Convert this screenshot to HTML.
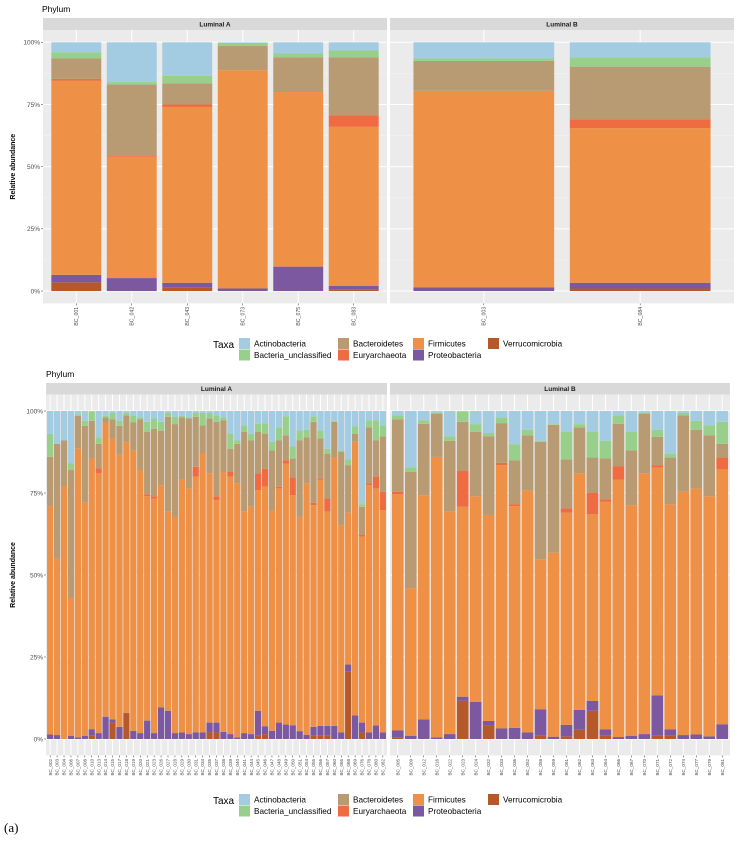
<!DOCTYPE html>
<html><head><meta charset="utf-8"><style>
html,body{margin:0;padding:0;background:#fff;}
svg{display:block;font-family:"Liberation Sans",sans-serif;}
</style></head><body>
<svg id="chart" width="740" height="843" viewBox="0 0 740 843" xmlns="http://www.w3.org/2000/svg"></svg>
<script>
// ---------- DATA ----------
const taxa = ["Verrucomicrobia","Proteobacteria","Firmicutes","Euryarchaeota","Bacteroidetes","Bacteria_unclassified","Actinobacteria"];
const yTicks = [0,25,50,75,100];
const yTickLabels = ["0%","25%","50%","75%","100%"];

// Top chart, Luminal A
const topA_samples = ["BC_001","BC_042","BC_043","BC_073","BC_075","BC_083"];
const topA_verr = [3.5,0,1.3,0,0,0.5];
const topA_prot = [3.0,5.2,2.0,1.0,9.8,1.5];
const topA_firm = [78.0,48.8,70.7,87.8,70.2,64.0];
const topA_eury = [0.8,0.3,1.0,0,0,4.6];
const topA_bact = [8.2,28.7,8.5,9.7,14.0,23.4];
const topA_uncl = [2.5,1.0,3.0,1.3,1.5,2.7];
const topA_acti = [4.0,16.0,13.5,0.2,4.5,3.3];
// Top chart, Luminal B
const topB_samples = ["BC_003","BC_084"];
const topB_verr = [0,1];
const topB_prot = [1.5,2.3];
const topB_firm = [79,62.2];
const topB_eury = [0,3.5];
const topB_bact = [12,21.2];
const topB_uncl = [1,3.8];
const topB_acti = [6.5,6];

// Bottom chart, Luminal A
const botA_samples = ["BC_002","BC_003","BC_004","BC_006","BC_007","BC_008","BC_010","BC_013","BC_014","BC_015","BC_017","BC_018","BC_019","BC_020","BC_021","BC_023","BC_026","BC_027","BC_028","BC_029","BC_030","BC_031","BC_034","BC_035","BC_037","BC_038","BC_039","BC_040","BC_041","BC_044","BC_045","BC_046","BC_047","BC_048","BC_049","BC_050","BC_051","BC_054","BC_055","BC_056","BC_057","BC_060","BC_065","BC_068","BC_069","BC_076","BC_078","BC_080","BC_082"];
const botA_verr = [0,0,0,0,0,0,1,0,0,5,0,7.8,0,0,0,0,0,0,0,0,0,0,0,2,2,0,0,0,0,0,1,1.5,0,0,0,0,0,0,1,1,1,0,0,20.5,0,2,0,0,0];
const botA_prot = [1.4,1.2,0,1,0.5,1,2,1.8,6.8,1,3.7,0.2,2.5,1.8,5.6,1.8,9.6,8.6,1.8,2,1.5,2,2,3,3,2.2,1.5,0.5,1.8,1.5,7.6,2.4,2.5,5,4.4,4.2,2.4,1.3,2.7,3,3,4,2,2.2,7.2,3,2,4.1,2];
const botA_firm = [69.6,53.8,77,42,88,71,82.5,79.2,89.7,85.5,83,82.5,85.5,80.2,68.4,71.5,67.8,60.7,65.9,77,74.9,78,85.2,76,67.8,79.2,78.5,77.5,67.5,69.3,67.3,73.1,67.3,71.4,79.6,70.1,65.3,76.7,67.6,75,65.3,81.8,63.2,46.3,83.4,56.7,75.4,72.3,67.8];
const botA_eury = [0,0,0,0,0,0,0,1.5,0,0,0,0,0,0,0.6,0.7,0,0,0,0,0,3,0,0,1.2,0,1.4,0,0,0,5.1,5.4,0,0.5,1,5.4,0,0,0.7,0.4,4,0,0,0,0,0.5,0.6,3.6,5.6];
const botA_bact = [15,35,14,39,10,23.5,11.5,7.5,1.5,6,8.8,8.2,8.5,15.5,19,20.6,16.6,28.9,28.3,19,21.3,15.2,8.4,16.7,22.7,15.8,7.1,12,24.3,20.2,12.6,10.7,18.2,14.1,7.6,5.8,23.3,14,24.7,12.2,13.7,10.9,22.3,14.5,2.4,8.6,17,11,16.9];
const botA_uncl = [7,0,0,2,0.5,1.5,2.7,2,0.5,1.9,1.5,0.8,2.2,0.5,3.1,3.1,2.7,1.2,2.2,0.5,0.3,1.2,3.8,1.7,2,0.8,4.6,1,2,2,2.5,3.2,2.6,4,5.8,3.7,3.1,2.3,1.7,2.5,1.5,0.3,0.5,1.7,2.3,0.8,2.2,6.2,3.3];
const botA_acti = [7,10,9,16,1,3,0.3,8,1.5,0.6,3,0.5,1.3,2,3.3,2.3,3.3,0.6,1.8,1.5,2,0.6,0.6,0.6,1.3,2,6.9,9,4.4,7,3.9,3.7,9.4,5,1.6,10.8,5.9,5.7,1.6,5.9,11.5,3,12,14.8,4.7,28.4,2.8,2.8,4.4];

// Bottom chart, Luminal B
const botB_samples = ["BC_005","BC_009","BC_012","BC_016","BC_022","BC_023","BC_024","BC_032","BC_033","BC_036","BC_052","BC_058","BC_059","BC_061","BC_062","BC_063","BC_064","BC_066","BC_067","BC_070","BC_071","BC_072","BC_074","BC_077","BC_079","BC_081"];
const botB_verr = [0.5,0,0,0,0,11.7,0,4,0,0,0,1,0,0.8,2.8,8.6,1,0,0,0,1,1,0,0,0,0];
const botB_prot = [2.1,1,6,0.5,1.5,1.2,11.3,1.5,3.2,3.4,2,8,0.7,3.5,6.1,3,1.9,0.6,1,1.5,12.3,1.9,1.2,1.4,0.8,4.5];
const botB_firm = [72,45,68.3,85.5,67.8,57.9,62.7,62.8,80.3,67.6,73.7,45.8,56.1,64.7,72.1,57,69.4,78.5,70.3,79.5,69.5,68.7,74.2,75,73.2,77.7];
const botB_eury = [0.8,0,0,0,0,10.9,0,0,0.7,0.6,0,0,0,1.3,0,6.4,0.7,4.1,0,0,0.7,0,0,0,0,3.6];
const botB_bact = [22,35.4,21.8,13.2,21.6,15,19.6,24,12.1,13.4,16.9,35.8,39,14.9,14,10.8,12.5,12.9,16.7,18.2,8.6,14.2,23.3,17.9,18.6,4.2];
const botB_uncl = [1.3,1.4,1.1,0.3,1.4,3,2.4,1,1.7,4.9,1.7,0.3,0.2,8.4,1,7.8,5.4,2.6,5.6,0.3,2.2,1.2,0.7,2.7,3,6.7];
const botB_acti = [1.3,17.2,2.8,0.5,7.7,0.3,4,6.7,2,10.1,5.7,9.1,4,6.4,4,6.4,9.1,1.3,6.4,0.5,5.7,13,0.6,3,4.4,3.3];

// ---------- STYLE ----------
const colors = {"Verrucomicrobia":"#b5592a","Proteobacteria":"#7b58a0","Firmicutes":"#ee9045","Euryarchaeota":"#ef6b42","Bacteroidetes":"#b89a73","Bacteria_unclassified":"#98d08b","Actinobacteria":"#a3cbe2"};
const NS = "http://www.w3.org/2000/svg";
const svg = document.getElementById('chart');
function mk(tag, attrs, parent){
  const e = document.createElementNS(NS, tag);
  for (const k in attrs) e.setAttribute(k, attrs[k]);
  (parent||svg).appendChild(e);
  return e;
}

function drawPanel(g, name, strip, samples, series, px, stripY, panelY0, panelY1, yTopPx, yZeroPx, labelSize){
  const x0 = px[0], x1 = px[1];
  const s = mk('rect',{x:x0,y:stripY,width:x1-x0,height:panelY0-stripY,fill:'#d9d9d9'},g);
  
  
  const st = mk('text',{x:(x0+x1)/2,y:(stripY+panelY0)/2+2.3,'text-anchor':'middle','font-size':6.5,'font-weight':'bold',fill:'#1a1a1a'},g);
  st.textContent = strip;
  
  
  const bg = mk('rect',{x:x0,y:panelY0,width:x1-x0,height:panelY1-panelY0,fill:'#ebebeb'},g);
  
  
  const yScale = v => yZeroPx + (yTopPx - yZeroPx) * v / 100;
  for (let m=12.5; m<100; m+=25){
    mk('line',{x1:x0,x2:x1,y1:yScale(m),y2:yScale(m),stroke:'#f5f5f5','stroke-width':0.5},g);
  }
  yTicks.forEach(t=>{
    mk('line',{x1:x0,x2:x1,y1:yScale(t),y2:yScale(t),stroke:'#ffffff','stroke-width':1},g);
  });
  const n = samples.length;
  const unit = (x1-x0)/(n+0.2);
  const bw = unit*0.9;
  samples.forEach((smp,i)=>{
    const cx = x0 + (i+0.6)*unit;
    mk('line',{x1:cx,x2:cx,y1:panelY0,y2:panelY1,stroke:'#ffffff','stroke-width':1},g);
  });
  samples.forEach((smp,i)=>{
    const cx = x0 + (i+0.6)*unit;
    let cum = 0;
    taxa.forEach((tx,k)=>{
      const v = series[k][i];
      if (v<=0){ return; }
      const yb = yScale(cum), yt = yScale(cum+v);
      const r = mk('rect',{x:cx-bw/2,y:yt,width:bw,height:yb-yt,fill:colors[tx]},g);
      
      
      cum += v;
    });
    mk('line',{x1:cx,x2:cx,y1:panelY1,y2:panelY1+2,stroke:'#333','stroke-width':0.5},g);
    const lt = mk('text',{x:0,y:0,'text-anchor':'end','font-size':labelSize,fill:'#4d4d4d',transform:'translate('+(cx+labelSize*0.35)+','+(panelY1+3.5)+') rotate(-90)'},g);
    lt.textContent = smp;
    
    
  });
  return yScale;
}

function drawChart(name, title, titleY, axisX, leftPanel, rightPanel, stripY, panelY0, panelY1, yTopPx, yZeroPx, labelSize, A, B, legendY){
  const g = mk('g',{});
  
  
  const t = mk('text',{x:axisX,y:titleY,'font-size':8.5,fill:'#000'},g);
  t.textContent = title;
  
  
  const ys = drawPanel(g, name+'-luminal-a', 'Luminal A', A.samples, A.series, leftPanel, stripY, panelY0, panelY1, yTopPx, yZeroPx, labelSize);
  drawPanel(g, name+'-luminal-b', 'Luminal B', B.samples, B.series, rightPanel, stripY, panelY0, panelY1, yTopPx, yZeroPx, labelSize);
  yTicks.forEach((tv,i)=>{
    const yy = ys(tv);
    mk('line',{x1:leftPanel[0]-2,x2:leftPanel[0],y1:yy,y2:yy,stroke:'#333','stroke-width':0.5},g);
    const tl = mk('text',{x:leftPanel[0]-3,y:yy+2.3,'text-anchor':'end','font-size':6.5,fill:'#4d4d4d'},g);
    tl.textContent = yTickLabels[i];
    
    
  });
  const yt = mk('text',{x:0,y:0,'text-anchor':'middle','font-size':7,'font-weight':'bold',fill:'#000',transform:'translate(15,'+((panelY0+panelY1)/2)+') rotate(-90)'},g);
  yt.textContent = 'Relative abundance';
  
  
  // legend
  const lg = mk('g',{},g);
  
  
  const lt = mk('text',{x:213,y:legendY+9,'font-size':10,fill:'#000'},lg);
  lt.textContent = 'Taxa';
  
  
  const order = ["Actinobacteria","Bacteria_unclassified","Bacteroidetes","Euryarchaeota","Firmicutes","Proteobacteria","Verrucomicrobia"];
  const colX = [239,338,413,488];
  order.forEach((tx,i)=>{
    const c = Math.floor(i/2), r = i%2;
    const kx = colX[c], ky = legendY + r*11.5 - 1;
    const e = mk('g',{},lg);
    
    
    mk('rect',{x:kx,y:ky,width:11,height:11,fill:colors[tx]},e);
    const tt = mk('text',{x:kx+15,y:ky+8.5,'font-size':8.2,fill:'#000'},e);
    tt.textContent = tx;
  });
}

drawChart('top-chart','Phylum',12,42,[43,387],[390,734],18,30,303.4,42.3,291,5.2,
  {samples:topA_samples, series:[topA_verr,topA_prot,topA_firm,topA_eury,topA_bact,topA_uncl,topA_acti]},
  {samples:topB_samples, series:[topB_verr,topB_prot,topB_firm,topB_eury,topB_bact,topB_uncl,topB_acti]},
  339);
drawChart('bottom-chart','Phylum',377,46,[46,387],[390,730],383,394.5,755.4,411,739,4.6,
  {samples:botA_samples, series:[botA_verr,botA_prot,botA_firm,botA_eury,botA_bact,botA_uncl,botA_acti]},
  {samples:botB_samples, series:[botB_verr,botB_prot,botB_firm,botB_eury,botB_bact,botB_uncl,botB_acti]},
  795);

const pl = mk('text',{x:4,y:832,'font-size':13,'font-family':'"Liberation Serif",serif',fill:'#000'});
pl.textContent = '(a)';


</script>
</body></html>
